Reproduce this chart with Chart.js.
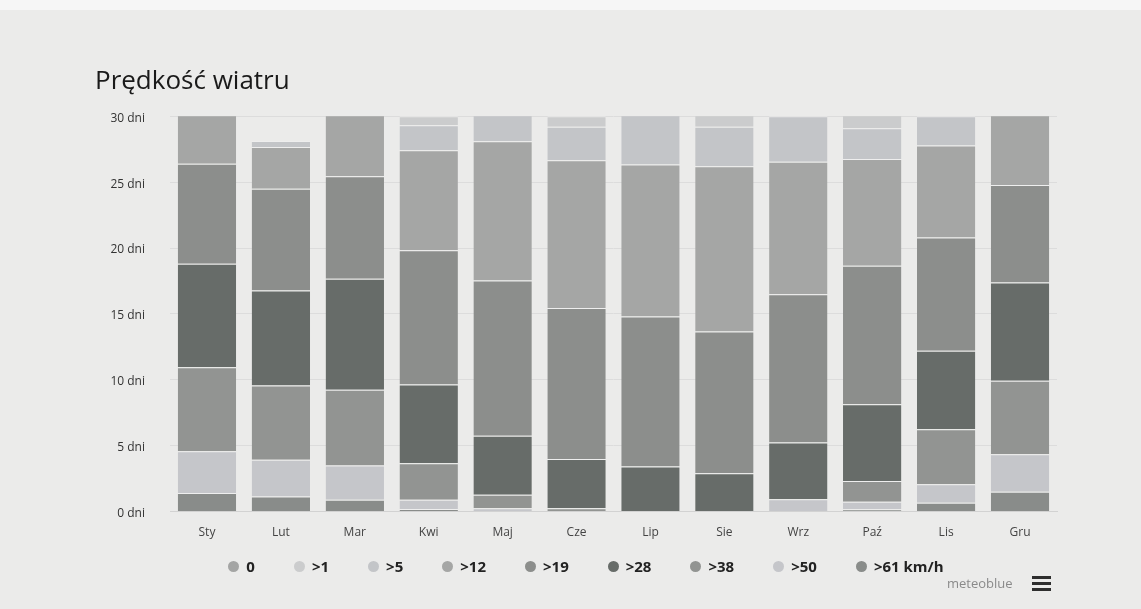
<!DOCTYPE html>
<html>
<head>
<meta charset="utf-8">
<script src="https://cdn.jsdelivr.net/npm/chart.js@4/dist/chart.umd.min.js"></script>
<style>
  html, body { margin: 0; padding: 0; background: #ebebea; }
  #wrap { position: relative; width: 1141px; height: 609px; overflow: hidden; background: #ebebea; }
  #topband { position: absolute; left: 0; top: 0; width: 1141px; height: 10px; background: #f6f6f6; }
  #c { position: absolute; left: 0; top: 0; }
  #legend { position: absolute; left: 0; top: 556px; width: 1172px; height: 20px; display: flex; justify-content: center; align-items: center;
            font: bold 15px 'Open Sans', sans-serif; color: #222; white-space: nowrap; }
  #legend .item { display: flex; align-items: center; margin: 0 19.5px; line-height: 20px; }
  #legend .dot { width: 11px; height: 11px; border-radius: 50%; margin-right: 7px; }
  #credit { position: absolute; left: 947px; top: 574px; font: 13px 'Open Sans', sans-serif; color: #8a8a8a; }
  #menu { position: absolute; left: 1032px; top: 576px; width: 19px; }
  #menu div { height: 3px; background: #2e2e2e; margin-bottom: 3px; }
</style>
</head>
<body>
<div id="wrap">
  <div id="topband"></div>
  <canvas id="c" width="1141" height="609"></canvas>
  <div id="legend"></div>
  <div id="credit">meteoblue</div>
  <div id="menu"><div></div><div></div><div></div></div>
</div>
<script>
// Categories
const months = ['Sty', 'Lut', 'Mar', 'Kwi', 'Maj', 'Cze', 'Lip', 'Sie', 'Wrz', 'Paź', 'Lis', 'Gru'];

// Days per month by maximum wind speed class (km/h)
const calm0 = [0, 0, 0, 0, 0, 0, 0, 0, 0, 0, 0, 0];
const gt1   = [0, 0, 0, 0.69, 0, 0.8, 0, 1.8, 0, 1.92, 0, 0];
const gt5   = [0, 0.46, 0, 1.9, 2.91, 2.55, 4.67, 3.0, 3.45, 2.33, 2.23, 0];
const gt12  = [4.6, 3.16, 5.56, 7.59, 10.55, 11.21, 11.52, 12.53, 10.05, 8.09, 6.97, 6.22];
const gt19  = [7.59, 7.72, 7.77, 10.18, 11.79, 11.45, 11.39, 10.76, 11.26, 10.51, 8.6, 7.39];
const gt28  = [7.85, 7.21, 8.43, 5.97, 4.48, 3.74, 3.42, 2.91, 4.31, 5.82, 5.95, 7.47];
const gt38  = [6.38, 5.64, 5.75, 2.78, 1.02, 0.25, 0, 0, 0, 1.59, 4.18, 5.57];
const gt50  = [3.16, 2.79, 2.6, 0.69, 0.25, 0, 0, 0, 0.93, 0.57, 1.39, 2.85];
const gt61  = [1.42, 1.14, 0.89, 0.2, 0, 0, 0, 0, 0, 0.17, 0.68, 1.5];

// Series labels (legend order) and tick settings
const seriesLabels = ['0', '>1', '>5', '>12', '>19', '>28', '>38', '>50', '>61 km/h'];
const seriesData   = [calm0, gt1, gt5, gt12, gt19, gt28, gt38, gt50, gt61];
const seriesColors = ['#a4a5a4', '#cbcccd', '#c3c5c8', '#a5a6a5', '#8c8e8c', '#676c69', '#929492', '#c5c6ca', '#898c8a'];
const yMax = 30;
const yStep = 5;
const yUnit = ' dni';

// Stack from strongest wind at the bottom to calm at the top
const datasets = [];
for (let i = seriesLabels.length - 1; i >= 0; i--) {
  datasets.push({
    label: seriesLabels[i],
    data: seriesData[i].map(v => (v === 0 ? null : v)),
    backgroundColor: seriesColors[i],
    borderColor: '#eeeeee',
    borderWidth: { top: 1, left: 0, right: 0, bottom: 0 },
    borderSkipped: 'start',
    stack: 's'
  });
}

// HTML legend in series order
const legendEl = document.getElementById('legend');
seriesLabels.forEach((lab, i) => {
  const item = document.createElement('div');
  item.className = 'item';
  const dot = document.createElement('span');
  dot.className = 'dot';
  dot.style.background = seriesColors[i];
  const txt = document.createElement('span');
  txt.textContent = lab;
  item.appendChild(dot);
  item.appendChild(txt);
  legendEl.appendChild(item);
});

new Chart(document.getElementById('c'), {
  type: 'bar',
  data: { labels: months, datasets: datasets },
  options: {
    responsive: false,
    animation: false,
    events: [],
    layout: { padding: { left: 95, right: 84, top: 0, bottom: 55 } },
    datasets: { bar: { categoryPercentage: 1, barPercentage: 0.79 } },
    scales: {
      x: {
        stacked: true,
        grid: { display: false, drawTicks: false },
        border: { display: true, color: '#d2d2d2' },
        ticks: { padding: 14, color: '#444', font: { family: 'Open Sans', size: 12 } }
      },
      y: {
        stacked: true,
        min: 0,
        max: yMax,
        ticks: {
          stepSize: yStep,
          padding: 25,
          color: '#333',
          labelOffset: 2,
          font: { family: 'Open Sans', size: 12 },
          callback: v => v + yUnit
        },
        grid: { color: '#dcdcdc', drawTicks: false },
        border: { display: false },
        afterFit: s => { s.width = 75; }
      }
    },
    plugins: {
      tooltip: { enabled: false },
      legend: { display: false },
      title: {
        display: true,
        text: 'Prędkość wiatru',
        align: 'start',
        color: '#1a1a1a',
        font: { family: 'Open Sans', size: 26, weight: 'normal' },
        padding: { top: 66, bottom: 19 }
      }
    }
  }
});
</script>
</body>
</html>
